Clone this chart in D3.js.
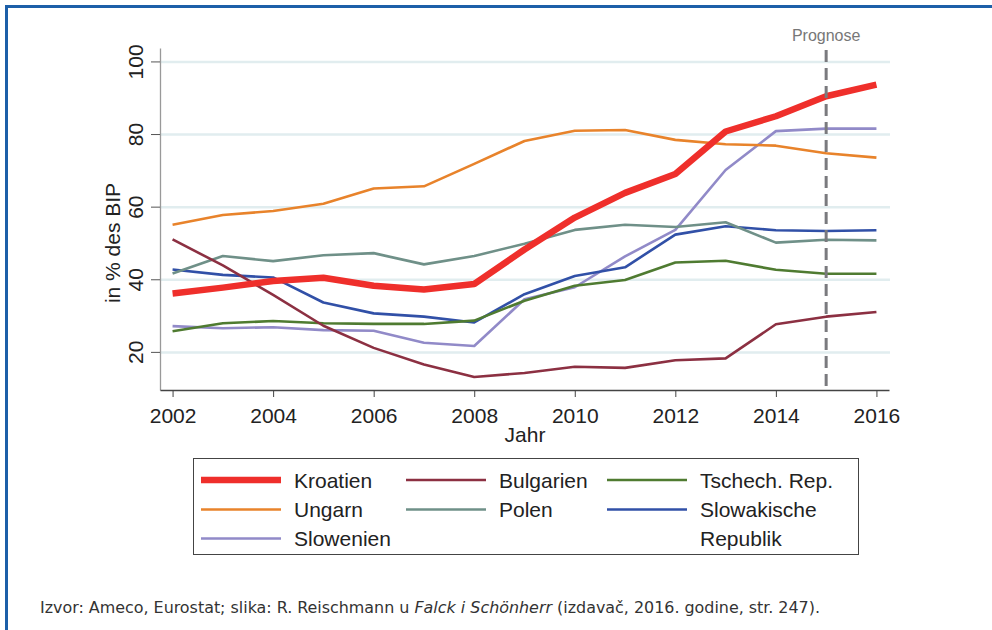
<!DOCTYPE html>
<html>
<head>
<meta charset="utf-8">
<script src="https://cdn.jsdelivr.net/npm/d3@7"></script>
<style>
  body { margin: 0; background: #fff; }
  svg { display: block; font-family: "Liberation Sans", Arial, sans-serif; }
  .grid line { stroke: #e1edef; stroke-width: 2.5; }
  .grid path { display: none; }
  .tick text { font-size: 21px; fill: #222; }
</style>
</head>
<body>
<svg id="chart" width="992" height="630"></svg>
<script>
const years = [2002,2003,2004,2005,2006,2007,2008,2009,2010,2011,2012,2013,2014,2015,2016]
const yTicks = [20,40,60,80,100]
const xTicks = [2002,2004,2006,2008,2010,2012,2014,2016]

const kroatien   = [36.1,37.7,39.5,40.4,38.2,37.2,38.7,48.2,57.0,63.8,69.0,80.7,84.9,90.4,93.6]
const ungarn     = [55.0,57.7,58.8,60.8,65.0,65.6,71.8,78.1,80.9,81.1,78.4,77.2,76.8,74.7,73.5]
const bulgarien  = [51.0,43.8,35.7,27.2,21.1,16.5,13.1,14.2,15.9,15.6,17.7,18.2,27.6,29.7,31.0]
const polen      = [41.6,46.4,45.0,46.6,47.2,44.1,46.4,49.8,53.6,55.0,54.4,55.7,50.1,50.9,50.7]
const tschechien = [25.7,27.9,28.5,27.9,27.7,27.7,28.6,34.1,38.2,39.8,44.6,45.1,42.6,41.5,41.5]
const slowakei   = [42.7,41.2,40.5,33.6,30.6,29.7,28.1,35.9,40.9,43.3,52.3,54.6,53.5,53.3,53.5]
const slowenien  = [27.1,26.5,26.8,26.0,25.8,22.5,21.6,34.5,37.8,46.3,53.6,70.1,80.8,81.5,81.5]

const prognoseYear = 2015

// legend order (3 columns, filled row by row)
const series = [
  {name: ['Kroatien'], values: kroatien, color: '#ef2f2b', width: 6.5},
  {name: ['Bulgarien'], values: bulgarien, color: '#8c3042', width: 2.6},
  {name: ['Tschech. Rep.'], values: tschechien, color: '#4f7b31', width: 2.6},
  {name: ['Ungarn'], values: ungarn, color: '#e8832b', width: 2.6},
  {name: ['Polen'], values: polen, color: '#6f9088', width: 2.6},
  {name: ['Slowakische', 'Republik'], values: slowakei, color: '#3150a7', width: 2.6},
  {name: ['Slowenien'], values: slowenien, color: '#918ac8', width: 2.6}
]

const svg = d3.select('#chart')

// blue frame (left + top)
svg.append('path')
  .attr('d', 'M6.5,630 V6.5 H992')
  .attr('fill', 'none')
  .attr('stroke', '#1c5fa8')
  .attr('stroke-width', 3)

const x = d3.scaleLinear().domain([2001.75, 2016.25]).range([160, 889])
const y = d3.scaleLinear().domain([9.5, 103.7]).range([390, 48])

// horizontal grid
svg.append('g')
  .attr('class', 'grid')
  .attr('transform', 'translate(160,0)')
  .call(d3.axisLeft(y).tickValues(yTicks).tickSize(-730).tickFormat(''))

// y axis
const yAxis = svg.append('g')
  .attr('transform', 'translate(160,0)')
  .call(d3.axisLeft(y).tickValues(yTicks).tickSize(9).tickSizeOuter(0).tickPadding(0))
yAxis.select('.domain').attr('stroke', '#999').attr('stroke-width', 1.3)
yAxis.selectAll('.tick line').attr('stroke', '#555')
yAxis.selectAll('.tick text')
  .attr('transform', 'rotate(-90)')
  .attr('x', 0)
  .attr('y', -17)
  .attr('dy', 0)
  .attr('text-anchor', 'middle')

// x axis
const xAxis = svg.append('g')
  .attr('transform', 'translate(0,390)')
  .call(d3.axisBottom(x).tickValues(xTicks).tickFormat(d3.format('d')).tickSize(7).tickSizeOuter(0).tickPadding(0))
xAxis.select('.domain').attr('stroke', '#444').attr('stroke-width', 1.3)
xAxis.selectAll('.tick line').attr('stroke', '#444')
xAxis.selectAll('.tick text').attr('y', 33).attr('dy', 0)

svg.append('text')
  .attr('x', 525)
  .attr('y', 442)
  .attr('text-anchor', 'middle')
  .attr('font-size', 21)
  .attr('fill', '#222')
  .text('Jahr')

svg.append('text')
  .attr('transform', 'translate(120,243) rotate(-90)')
  .attr('text-anchor', 'middle')
  .attr('font-size', 21)
  .attr('fill', '#222')
  .text('in % des BIP')

// series lines, Kroatien drawn last
const line = d3.line()
  .x((d, i) => x(years[i]))
  .y(d => y(d))

svg.append('g')
  .selectAll('path')
  .data(series.slice().reverse())
  .enter()
  .append('path')
  .attr('d', s => line(s.values))
  .attr('fill', 'none')
  .attr('stroke', s => s.color)
  .attr('stroke-width', s => s.width)
  .attr('stroke-linejoin', 'round')

// forecast marker
svg.append('line')
  .attr('x1', x(prognoseYear))
  .attr('x2', x(prognoseYear))
  .attr('y1', 50)
  .attr('y2', 390)
  .attr('stroke', '#7a7a7e')
  .attr('stroke-width', 3)
  .attr('stroke-dasharray', '12,6')

svg.append('text')
  .attr('x', x(prognoseYear))
  .attr('y', 41)
  .attr('text-anchor', 'middle')
  .attr('font-size', 16)
  .attr('fill', '#777')
  .text('Prognose')

// legend
svg.append('rect')
  .attr('x', 193.5)
  .attr('y', 458.5)
  .attr('width', 665)
  .attr('height', 96)
  .attr('fill', 'none')
  .attr('stroke', '#444')
  .attr('stroke-width', 1)

const colX = [201, 406, 607]
const rowY = [480, 509.5, 538.5]

const items = svg.append('g')
  .selectAll('g')
  .data(series)
  .enter()
  .append('g')
  .attr('transform', (s, i) => `translate(${colX[i % 3]},${rowY[Math.floor(i / 3)]})`)

items.append('line')
  .attr('x1', 0)
  .attr('x2', 80)
  .attr('stroke', s => s.color)
  .attr('stroke-width', s => s.width)

items.append('text')
  .attr('x', 93)
  .attr('font-size', 21)
  .attr('fill', '#222')
  .selectAll('tspan')
  .data(s => s.name)
  .enter()
  .append('tspan')
  .attr('x', 93)
  .attr('y', (d, i) => 7.5 + i * 29)
  .text(d => d)

// source line
const src = svg.append('text')
  .attr('x', 40)
  .attr('y', 613)
  .attr('font-family', '"Liberation Sans Narrow", "DejaVu Sans Condensed", sans-serif')
  .attr('font-size', 16)
  .attr('fill', '#333')
  .attr('textLength', 780)
  .attr('lengthAdjust', 'spacingAndGlyphs')
src.append('tspan').text('Izvor: Ameco, Eurostat; slika: R. Reischmann u ')
src.append('tspan').attr('font-style', 'italic').text('Falck i Schönherr')
src.append('tspan').text(' (izdavač, 2016. godine, str. 247).')
</script>
</body>
</html>
